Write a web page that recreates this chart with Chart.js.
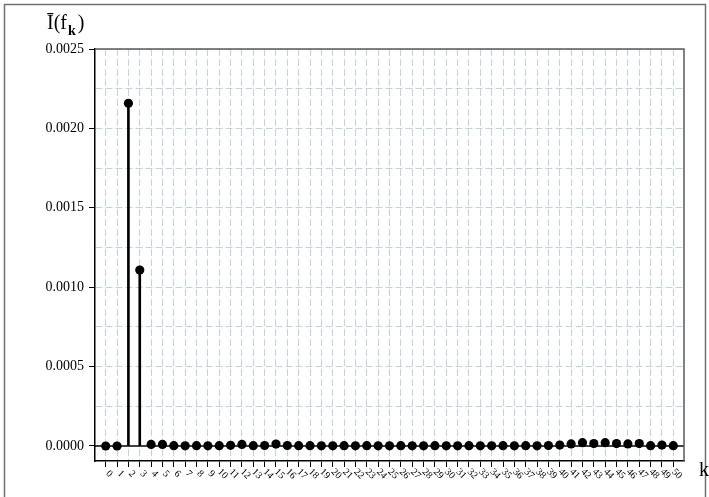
<!DOCTYPE html>
<html>
<head>
<meta charset="utf-8">
<script src="https://cdn.jsdelivr.net/npm/chart.js@4/dist/chart.umd.min.js"></script>
<style>
  html, body { margin: 0; padding: 0; background: #fff; }
  canvas { display: block; }
</style>
</head>
<body>
<canvas id="c" width="709" height="497"></canvas>
<script>
// Frequency index k
const kValues = [0,1,2,3,4,5,6,7,8,9,10,11,12,13,14,15,16,17,18,19,20,
                 21,22,23,24,25,26,27,28,29,30,31,32,33,34,35,36,37,38,39,40,
                 41,42,43,44,45,46,47,48,49,50];

// Averaged periodogram value at each frequency f_k
const periodogram = [
  0.0000000, 0.0000000, 0.0021580, 0.0011080, 0.0000100, 0.0000100, 0.0000020, 0.0000010,
  0.0000020, 0.0000010, 0.0000020, 0.0000040, 0.0000100, 0.0000020, 0.0000030, 0.0000120,
  0.0000030, 0.0000020, 0.0000020, 0.0000010, 0.0000010, 0.0000020, 0.0000010, 0.0000020,
  0.0000010, 0.0000010, 0.0000020, 0.0000010, 0.0000010, 0.0000020, 0.0000010, 0.0000010,
  0.0000020, 0.0000010, 0.0000010, 0.0000020, 0.0000010, 0.0000020, 0.0000010, 0.0000030,
  0.0000060, 0.0000130, 0.0000210, 0.0000150, 0.0000210, 0.0000150, 0.0000130, 0.0000150,
  0.0000020, 0.0000060, 0.0000020
];

// Labelled y ticks and the spacing of the dashed horizontal grid
const yLabelTicks = [0, 0.0005, 0.0010, 0.0015, 0.0020, 0.0025];
const yGridStep = 0.00025;

const SERIF = '"Liberation Serif", "DejaVu Serif", serif';
const GRID = 'rgba(150,182,200,0.6)';

const points = kValues.map((k, i) => ({ x: k, y: periodogram[i] }));

const yGridValues = [];
for (let v = 0; v <= 0.0025 + 1e-12; v += yGridStep) yGridValues.push(+v.toFixed(6));

const isLabelled = v => yLabelTicks.some(t => Math.abs(t - v) < 1e-9);

const decorations = {
  id: 'decorations',
  beforeDraw(chart) {
    const ctx = chart.ctx;
    ctx.save();
    ctx.fillStyle = '#fff';
    ctx.fillRect(0, 0, chart.width, chart.height);
    // outer frame
    ctx.strokeStyle = '#707070';
    ctx.lineWidth = 1.5;
    ctx.beginPath();
    ctx.moveTo(4.5, chart.height);
    ctx.lineTo(4.5, 4.5);
    ctx.lineTo(705.5, 4.5);
    ctx.lineTo(705.5, chart.height);
    ctx.stroke();
    ctx.restore();
  },
  beforeDatasetsDraw(chart) {
    const { ctx, chartArea, scales } = chart;
    const y0 = scales.y.getPixelForValue(0);
    ctx.save();
    ctx.strokeStyle = '#000';
    ctx.lineWidth = 1.3;
    ctx.beginPath();
    ctx.moveTo(chartArea.left, y0);
    ctx.lineTo(chartArea.right, y0);
    ctx.stroke();
    ctx.restore();
  },
  afterDraw(chart) {
    const { ctx, chartArea, scales } = chart;
    ctx.save();
    // top and right frame of the plot
    ctx.strokeStyle = '#5a5a5a';
    ctx.lineWidth = 1.5;
    ctx.beginPath();
    ctx.moveTo(chartArea.left, chartArea.top);
    ctx.lineTo(chartArea.right, chartArea.top);
    ctx.lineTo(chartArea.right, chartArea.bottom);
    ctx.stroke();

    // rotated k tick labels
    ctx.fillStyle = '#000';
    ctx.font = '10px ' + SERIF;
    ctx.textAlign = 'center';
    ctx.textBaseline = 'middle';
    scales.x.ticks.forEach(t => {
      const px = scales.x.getPixelForValue(t.value);
      ctx.save();
      ctx.translate(px + 3.5, chartArea.bottom + 13);
      ctx.rotate(Math.PI / 4);
      ctx.fillText(String(t.value), 0, 0);
      ctx.restore();
    });

    // y axis title: I-bar(f_k)
    ctx.fillStyle = '#000';
    ctx.textAlign = 'left';
    ctx.textBaseline = 'alphabetic';
    ctx.font = '20px ' + SERIF;
    let x = 47;
    ctx.fillText('\u012A(f', x, 29);
    x += ctx.measureText('\u012A(f').width + 1;
    ctx.font = 'bold 14px ' + SERIF;
    ctx.fillText('k', x, 35);
    x += ctx.measureText('k').width + 2;
    ctx.font = '20px ' + SERIF;
    ctx.fillText(')', x, 29);

    // x axis title
    ctx.fillText('k', 699, 476);
    ctx.restore();
  }
};

new Chart(document.getElementById('c'), {
  type: 'scatter',
  data: {
    datasets: [
      {
        type: 'scatter',
        data: points,
        order: 0,
        pointRadius: 4.6,
        pointHoverRadius: 4.6,
        backgroundColor: '#000',
        borderWidth: 0
      },
      {
        type: 'bar',
        data: points,
        order: 1,
        barThickness: 2,
        backgroundColor: '#000',
        borderWidth: 0
      }
    ]
  },
  options: {
    responsive: false,
    animation: false,
    events: [],
    layout: { padding: { top: 49, right: 25, left: 0, bottom: 0 } },
    plugins: { legend: { display: false }, tooltip: { enabled: false } },
    scales: {
      x: {
        type: 'linear',
        min: -0.943,
        max: 50.943,
        offset: false,
        afterBuildTicks: s => { s.ticks = kValues.map(v => ({ value: v })); },
        afterFit: s => { s.height = 36; },
        ticks: { display: false, autoSkip: false },
        grid: {
          offset: false,
          color: GRID,
          lineWidth: 1,
          tickColor: '#000',
          tickLength: 6,
          tickWidth: 1
        },
        border: { color: '#000', width: 1.5, dash: [7, 3] }
      },
      y: {
        type: 'linear',
        min: -0.0000945,
        max: 0.0025,
        afterBuildTicks: s => { s.ticks = yGridValues.map(v => ({ value: v })); },
        afterFit: s => { s.width = 95; },
        ticks: {
          autoSkip: false,
          color: '#000',
          padding: 5,
          font: { family: SERIF, size: 14 },
          callback: v => isLabelled(v) ? v.toFixed(4) : ''
        },
        grid: {
          color: c => (c.tick && Math.abs(c.tick.value) < 1e-12) ? 'rgba(0,0,0,0)' : GRID,
          lineWidth: 1,
          tickColor: c => (c.tick && isLabelled(c.tick.value)) ? '#000' : 'rgba(0,0,0,0)',
          tickLength: 6,
          tickWidth: 1
        },
        border: { color: '#000', width: 1.5, dash: [7, 3] }
      }
    }
  },
  plugins: [decorations]
});
</script>
</body>
</html>
